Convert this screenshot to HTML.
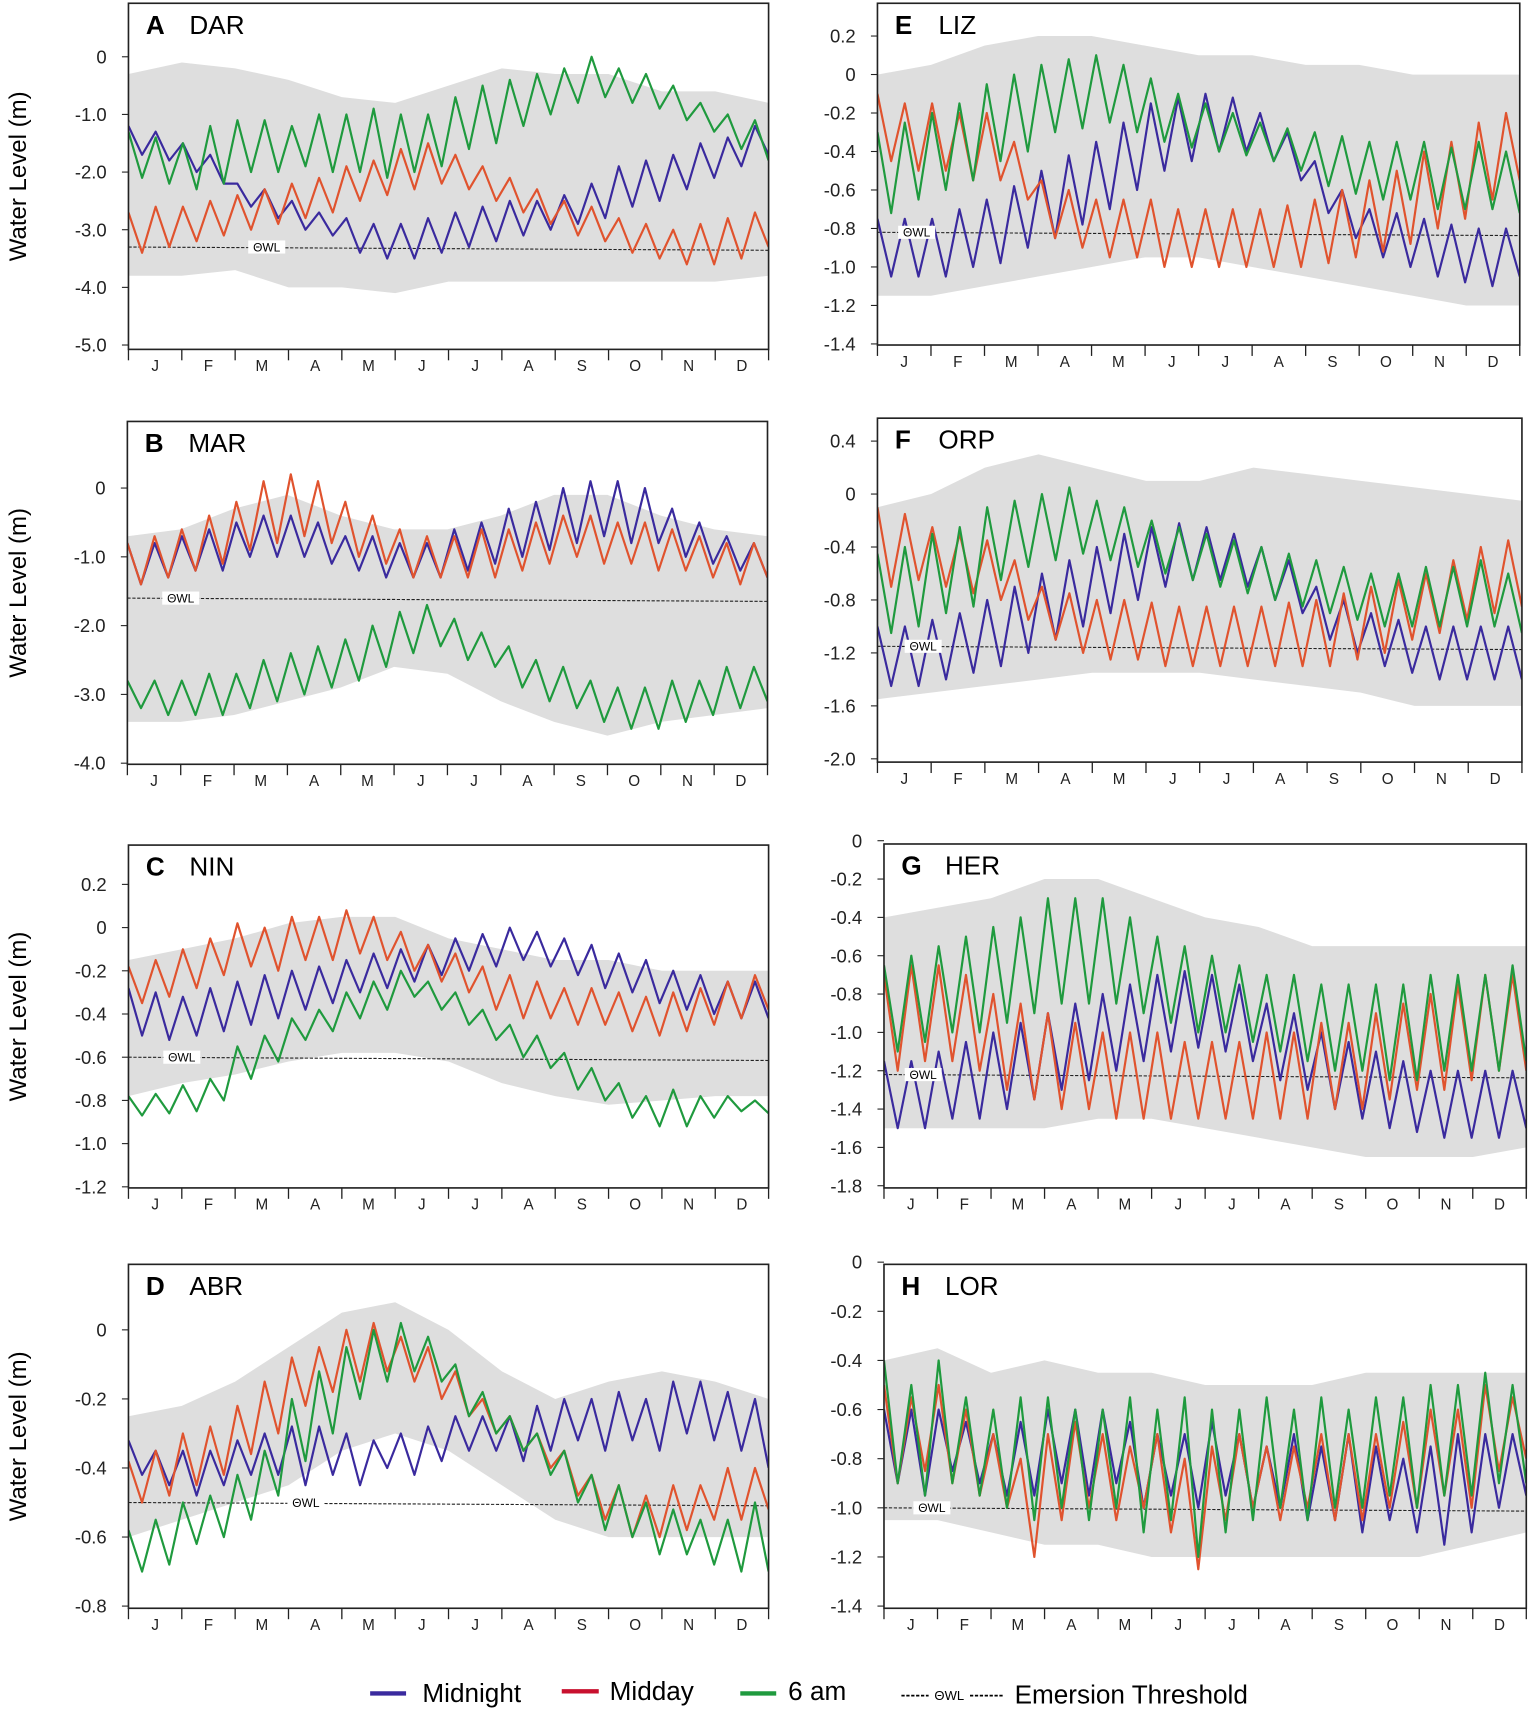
<!DOCTYPE html>
<html><head><meta charset="utf-8"><style>
html,body{margin:0;padding:0;background:#fff}
svg{display:block}
text{font-family:"Liberation Sans",sans-serif}
</style></head><body>
<svg id="chart" width="1535" height="1712" viewBox="0 0 1410 1568" preserveAspectRatio="none" xmlns="http://www.w3.org/2000/svg">
<g id="panels"></g>
<g id="legend">
  <line x1="340" y1="1551" x2="373" y2="1551" stroke="#3a2a9e" stroke-width="4"/>
  <text x="388" y="1559" font-size="24">Midnight</text>
  <line x1="516" y1="1549" x2="550" y2="1549" stroke="#c8102e" stroke-width="4"/>
  <text x="560" y="1557" font-size="24">Midday</text>
  <line x1="680" y1="1551" x2="713" y2="1551" stroke="#1f9a3e" stroke-width="4"/>
  <text x="724" y="1557" font-size="24">6 am</text>
  <line x1="828" y1="1553" x2="922" y2="1553" stroke="#000" stroke-width="1.5" stroke-dasharray="3,1.5"/>
  <rect x="853" y="1545" width="38" height="14" fill="#fff"/>
  <text x="872" y="1557" font-size="12" text-anchor="middle" font-family="Liberation Serif,serif">ΘWL</text>
  <text x="932" y="1560" font-size="24">Emersion Threshold</text>
</g>
</svg>
<script>
const months = ["J","F","M","A","M","J","J","A","S","O","N","D"];
const panelIds = ["A","B","C","D","E","F","G","H"];
const panelNames = ["DAR","MAR","NIN","ABR","LIZ","ORP","HER","LOR"];
const owlValues = [-3.3,-1.6,-0.6,-0.5,-0.82,-1.15,-1.22,-1.0];
const tickA = [0,-1,-2,-3,-4,-5];
const tickLabelsA = ["0","-1.0","-2.0","-3.0","-4.0","-5.0"];
const tickB = [0,-1,-2,-3,-4];
const tickLabelsB = ["0","-1.0","-2.0","-3.0","-4.0"];
const tickC = [0.2,0,-0.2,-0.4,-0.6,-0.8,-1.0,-1.2];
const tickLabelsC = ["0.2","0","-0.2","-0.4","-0.6","-0.8","-1.0","-1.2"];
const tickD = [0,-0.2,-0.4,-0.6,-0.8];
const tickLabelsD = ["0","-0.2","-0.4","-0.6","-0.8"];
const tickE = [0.2,0,-0.2,-0.4,-0.6,-0.8,-1.0,-1.2,-1.4];
const tickLabelsE = ["0.2","0","-0.2","-0.4","-0.6","-0.8","-1.0","-1.2","-1.4"];
const tickF = [0.4,0,-0.4,-0.8,-1.2,-1.6,-2.0];
const tickLabelsF = ["0.4","0","-0.4","-0.8","-1.2","-1.6","-2.0"];
const tickG = [0,-0.2,-0.4,-0.6,-0.8,-1.0,-1.2,-1.4,-1.6,-1.8];
const tickLabelsG = ["0","-0.2","-0.4","-0.6","-0.8","-1.0","-1.2","-1.4","-1.6","-1.8"];
const tickH = [0,-0.2,-0.4,-0.6,-0.8,-1.0,-1.2,-1.4];
const tickLabelsH = ["0","-0.2","-0.4","-0.6","-0.8","-1.0","-1.2","-1.4"];

const midnightA = [-1.2,-1.7,-1.3,-1.8,-1.5,-2.0,-1.7,-2.2,-2.2,-2.6,-2.3,-2.8,-2.5,-3.0,-2.7,-3.1,-2.8,-3.4,-2.9,-3.5,-2.9,-3.5,-2.8,-3.4,-2.7,-3.3,-2.6,-3.2,-2.5,-3.1,-2.5,-3.0,-2.4,-2.9,-2.2,-2.8,-1.9,-2.6,-1.8,-2.5,-1.7,-2.3,-1.5,-2.1,-1.4,-1.9,-1.2,-1.7];
const middayA = [-2.7,-3.4,-2.6,-3.3,-2.6,-3.2,-2.5,-3.1,-2.4,-3.0,-2.3,-2.9,-2.2,-2.8,-2.1,-2.7,-1.9,-2.5,-1.8,-2.4,-1.6,-2.3,-1.5,-2.2,-1.7,-2.3,-1.9,-2.5,-2.1,-2.7,-2.3,-2.9,-2.5,-3.1,-2.6,-3.2,-2.8,-3.4,-2.9,-3.5,-3.0,-3.6,-2.9,-3.6,-2.8,-3.5,-2.7,-3.3];
const sixamA = [-1.3,-2.1,-1.4,-2.2,-1.5,-2.3,-1.2,-2.2,-1.1,-2.0,-1.1,-2.0,-1.2,-1.9,-1.0,-2.0,-1.0,-2.0,-0.9,-2.1,-1.0,-2.0,-1.0,-1.9,-0.7,-1.6,-0.5,-1.5,-0.4,-1.2,-0.3,-1.0,-0.2,-0.8,0.0,-0.7,-0.2,-0.8,-0.3,-0.9,-0.5,-1.1,-0.8,-1.3,-1.0,-1.6,-1.1,-1.8];
const grayUpA = [-0.3,-0.1,-0.2,-0.4,-0.7,-0.8,-0.5,-0.2,-0.3,-0.3,-0.6,-0.6,-0.8];
const grayLoA = [-3.8,-3.8,-3.7,-4.0,-4.0,-4.1,-3.9,-3.9,-3.9,-3.9,-3.9,-3.9,-3.8];

const midnightB = [-0.8,-1.4,-0.8,-1.3,-0.7,-1.2,-0.6,-1.2,-0.5,-1.0,-0.4,-1.0,-0.4,-1.0,-0.5,-1.1,-0.7,-1.2,-0.7,-1.3,-0.8,-1.3,-0.8,-1.3,-0.6,-1.2,-0.5,-1.1,-0.3,-1.0,-0.2,-0.9,0.0,-0.8,0.1,-0.7,0.1,-0.8,0.0,-0.8,-0.3,-1.0,-0.5,-1.1,-0.7,-1.2,-0.8,-1.3];
const middayB = [-0.8,-1.4,-0.7,-1.3,-0.6,-1.2,-0.4,-1.1,-0.2,-0.9,0.1,-0.8,0.2,-0.7,0.1,-0.8,-0.2,-1.0,-0.4,-1.1,-0.6,-1.3,-0.7,-1.3,-0.7,-1.3,-0.6,-1.3,-0.6,-1.2,-0.5,-1.1,-0.4,-1.0,-0.4,-1.1,-0.5,-1.1,-0.5,-1.2,-0.6,-1.2,-0.7,-1.3,-0.8,-1.4,-0.8,-1.3];
const sixamB = [-2.8,-3.2,-2.8,-3.3,-2.8,-3.3,-2.7,-3.3,-2.7,-3.2,-2.5,-3.1,-2.4,-3.0,-2.3,-2.9,-2.2,-2.8,-2.0,-2.6,-1.8,-2.4,-1.7,-2.3,-1.9,-2.5,-2.1,-2.6,-2.3,-2.9,-2.5,-3.1,-2.6,-3.2,-2.8,-3.4,-2.9,-3.5,-2.9,-3.5,-2.8,-3.4,-2.8,-3.3,-2.6,-3.2,-2.6,-3.1];
const grayUpB = [-0.7,-0.6,-0.3,-0.1,-0.4,-0.6,-0.6,-0.4,-0.1,-0.1,-0.4,-0.6,-0.7];
const grayLoB = [-3.4,-3.4,-3.3,-3.1,-2.9,-2.6,-2.7,-3.1,-3.4,-3.6,-3.4,-3.3,-3.2];

const midnightC = [-0.28,-0.5,-0.3,-0.52,-0.32,-0.5,-0.28,-0.48,-0.25,-0.45,-0.22,-0.42,-0.2,-0.38,-0.18,-0.35,-0.15,-0.3,-0.12,-0.28,-0.1,-0.25,-0.08,-0.22,-0.05,-0.2,-0.03,-0.18,0.0,-0.15,-0.02,-0.18,-0.05,-0.22,-0.08,-0.28,-0.12,-0.3,-0.15,-0.35,-0.2,-0.38,-0.22,-0.4,-0.25,-0.42,-0.25,-0.42];
const middayC = [-0.18,-0.35,-0.15,-0.32,-0.1,-0.28,-0.05,-0.22,0.02,-0.18,0.0,-0.2,0.05,-0.15,0.05,-0.15,0.08,-0.12,0.05,-0.15,-0.02,-0.2,-0.08,-0.25,-0.12,-0.3,-0.18,-0.38,-0.22,-0.42,-0.25,-0.42,-0.28,-0.45,-0.28,-0.45,-0.3,-0.48,-0.32,-0.5,-0.3,-0.48,-0.28,-0.45,-0.25,-0.42,-0.22,-0.38];
const sixamC = [-0.78,-0.87,-0.77,-0.86,-0.73,-0.85,-0.7,-0.8,-0.55,-0.7,-0.5,-0.62,-0.42,-0.52,-0.38,-0.48,-0.3,-0.42,-0.25,-0.38,-0.2,-0.32,-0.25,-0.38,-0.3,-0.45,-0.38,-0.52,-0.45,-0.6,-0.5,-0.65,-0.58,-0.75,-0.65,-0.8,-0.72,-0.88,-0.78,-0.92,-0.75,-0.92,-0.78,-0.88,-0.78,-0.85,-0.8,-0.86];
const grayUpC = [-0.15,-0.1,-0.05,0.02,0.05,0.05,-0.05,-0.1,-0.15,-0.15,-0.2,-0.2,-0.2];
const grayLoC = [-0.78,-0.72,-0.68,-0.62,-0.58,-0.58,-0.62,-0.72,-0.78,-0.82,-0.8,-0.78,-0.78];

const midnightD = [-0.32,-0.42,-0.35,-0.45,-0.35,-0.48,-0.35,-0.45,-0.32,-0.42,-0.3,-0.42,-0.28,-0.45,-0.28,-0.42,-0.3,-0.45,-0.32,-0.4,-0.3,-0.42,-0.28,-0.38,-0.25,-0.35,-0.25,-0.35,-0.25,-0.38,-0.22,-0.35,-0.2,-0.32,-0.2,-0.35,-0.18,-0.32,-0.2,-0.35,-0.15,-0.3,-0.15,-0.32,-0.18,-0.35,-0.2,-0.4];
const middayD = [-0.38,-0.5,-0.35,-0.48,-0.3,-0.45,-0.28,-0.42,-0.22,-0.36,-0.15,-0.3,-0.08,-0.22,-0.05,-0.18,0.0,-0.15,0.02,-0.12,-0.02,-0.15,-0.05,-0.2,-0.12,-0.25,-0.2,-0.3,-0.25,-0.35,-0.3,-0.4,-0.35,-0.48,-0.42,-0.55,-0.45,-0.6,-0.48,-0.6,-0.45,-0.58,-0.45,-0.55,-0.4,-0.55,-0.4,-0.52];
const sixamD = [-0.58,-0.7,-0.55,-0.68,-0.5,-0.62,-0.48,-0.6,-0.42,-0.55,-0.35,-0.48,-0.2,-0.38,-0.12,-0.3,-0.05,-0.2,0.0,-0.15,0.02,-0.12,-0.02,-0.15,-0.1,-0.25,-0.18,-0.3,-0.25,-0.35,-0.3,-0.42,-0.35,-0.5,-0.42,-0.58,-0.45,-0.6,-0.5,-0.65,-0.52,-0.65,-0.55,-0.68,-0.55,-0.7,-0.5,-0.7];
const grayUpD = [-0.25,-0.22,-0.15,-0.05,0.05,0.08,0.0,-0.12,-0.2,-0.15,-0.12,-0.15,-0.2];
const grayLoD = [-0.6,-0.55,-0.5,-0.45,-0.35,-0.3,-0.35,-0.45,-0.55,-0.6,-0.6,-0.6,-0.6];

const midnightE = [-0.75,-1.05,-0.75,-1.05,-0.75,-1.05,-0.7,-1.0,-0.65,-0.98,-0.58,-0.9,-0.5,-0.85,-0.42,-0.78,-0.35,-0.7,-0.25,-0.6,-0.15,-0.5,-0.12,-0.45,-0.1,-0.4,-0.12,-0.4,-0.2,-0.45,-0.3,-0.55,-0.45,-0.72,-0.6,-0.85,-0.7,-0.95,-0.72,-1.0,-0.75,-1.05,-0.78,-1.08,-0.8,-1.1,-0.8,-1.05];
const middayE = [-0.1,-0.45,-0.15,-0.5,-0.15,-0.5,-0.2,-0.55,-0.2,-0.55,-0.35,-0.65,-0.55,-0.85,-0.6,-0.9,-0.65,-0.95,-0.65,-0.95,-0.65,-1.0,-0.7,-1.0,-0.7,-1.0,-0.7,-1.0,-0.7,-1.0,-0.68,-1.0,-0.65,-0.98,-0.6,-0.95,-0.55,-0.92,-0.5,-0.88,-0.4,-0.8,-0.35,-0.75,-0.25,-0.65,-0.2,-0.55];
const sixamE = [-0.3,-0.72,-0.25,-0.65,-0.2,-0.6,-0.15,-0.55,-0.05,-0.45,0.0,-0.4,0.05,-0.3,0.08,-0.28,0.1,-0.25,0.05,-0.3,-0.02,-0.35,-0.1,-0.38,-0.15,-0.4,-0.2,-0.42,-0.25,-0.45,-0.28,-0.5,-0.3,-0.58,-0.32,-0.62,-0.35,-0.65,-0.35,-0.65,-0.35,-0.7,-0.38,-0.7,-0.35,-0.7,-0.4,-0.72];
const grayUpE = [0.0,0.05,0.15,0.2,0.2,0.15,0.1,0.1,0.05,0.05,0.0,0.0,0.0];
const grayLoE = [-1.15,-1.15,-1.1,-1.05,-1.0,-0.95,-0.95,-1.0,-1.05,-1.1,-1.15,-1.2,-1.2];

const midnightF = [-1.0,-1.45,-1.0,-1.45,-0.95,-1.4,-0.9,-1.35,-0.8,-1.3,-0.7,-1.2,-0.6,-1.1,-0.5,-1.0,-0.4,-0.9,-0.3,-0.8,-0.25,-0.7,-0.22,-0.65,-0.25,-0.65,-0.3,-0.7,-0.4,-0.8,-0.5,-0.9,-0.7,-1.1,-0.8,-1.2,-0.9,-1.3,-0.95,-1.35,-1.0,-1.4,-1.0,-1.4,-1.0,-1.4,-1.0,-1.4];
const middayF = [-0.1,-0.7,-0.15,-0.65,-0.25,-0.7,-0.3,-0.75,-0.35,-0.8,-0.5,-0.95,-0.7,-1.1,-0.75,-1.2,-0.8,-1.25,-0.8,-1.25,-0.82,-1.3,-0.85,-1.3,-0.85,-1.3,-0.85,-1.3,-0.85,-1.3,-0.82,-1.3,-0.8,-1.3,-0.75,-1.25,-0.7,-1.2,-0.65,-1.1,-0.6,-1.05,-0.5,-0.95,-0.4,-0.9,-0.35,-0.85];
const sixamF = [-0.45,-1.05,-0.4,-1.0,-0.3,-0.9,-0.25,-0.85,-0.1,-0.65,-0.05,-0.55,0.0,-0.5,0.05,-0.45,-0.05,-0.5,-0.1,-0.55,-0.2,-0.6,-0.25,-0.65,-0.3,-0.7,-0.35,-0.75,-0.4,-0.8,-0.45,-0.85,-0.5,-0.9,-0.55,-0.95,-0.6,-1.0,-0.6,-1.0,-0.55,-1.0,-0.55,-1.0,-0.5,-1.0,-0.6,-1.05];
const grayUpF = [-0.1,0.0,0.2,0.3,0.2,0.1,0.1,0.2,0.15,0.1,0.05,0.0,-0.05];
const grayLoF = [-1.55,-1.5,-1.45,-1.4,-1.35,-1.35,-1.35,-1.4,-1.45,-1.5,-1.6,-1.6,-1.6];

const midnightG = [-1.15,-1.5,-1.15,-1.5,-1.1,-1.45,-1.05,-1.45,-1.0,-1.4,-0.95,-1.35,-0.9,-1.3,-0.85,-1.25,-0.8,-1.2,-0.75,-1.15,-0.7,-1.1,-0.68,-1.08,-0.7,-1.1,-0.75,-1.15,-0.85,-1.25,-0.9,-1.3,-1.0,-1.4,-1.05,-1.45,-1.1,-1.5,-1.15,-1.52,-1.2,-1.55,-1.2,-1.55,-1.2,-1.55,-1.2,-1.5];
const middayG = [-0.7,-1.2,-0.65,-1.15,-0.65,-1.15,-0.7,-1.2,-0.8,-1.3,-0.85,-1.35,-0.9,-1.4,-0.95,-1.4,-1.0,-1.45,-1.0,-1.45,-1.0,-1.45,-1.05,-1.45,-1.05,-1.45,-1.05,-1.45,-1.0,-1.45,-1.0,-1.45,-0.95,-1.4,-0.95,-1.4,-0.9,-1.35,-0.85,-1.3,-0.8,-1.3,-0.75,-1.25,-0.7,-1.2,-0.7,-1.2];
const sixamG = [-0.65,-1.1,-0.6,-1.05,-0.55,-1.0,-0.5,-1.0,-0.45,-0.95,-0.4,-0.9,-0.3,-0.85,-0.3,-0.85,-0.3,-0.85,-0.4,-0.9,-0.5,-0.95,-0.55,-1.0,-0.6,-1.0,-0.65,-1.05,-0.7,-1.1,-0.7,-1.15,-0.75,-1.2,-0.75,-1.2,-0.75,-1.25,-0.75,-1.25,-0.7,-1.2,-0.7,-1.2,-0.7,-1.2,-0.65,-1.15];
const grayUpG = [-0.4,-0.35,-0.3,-0.2,-0.2,-0.3,-0.4,-0.45,-0.55,-0.55,-0.55,-0.55,-0.55];
const grayLoG = [-1.5,-1.5,-1.5,-1.5,-1.45,-1.45,-1.5,-1.55,-1.6,-1.65,-1.65,-1.65,-1.6];

const midnightH = [-0.6,-0.9,-0.6,-0.95,-0.6,-0.85,-0.65,-0.9,-0.7,-0.95,-0.65,-0.95,-0.6,-0.9,-0.6,-0.95,-0.6,-0.9,-0.65,-1.0,-0.7,-0.95,-0.7,-1.0,-0.65,-0.95,-0.7,-1.0,-0.75,-1.0,-0.7,-1.05,-0.75,-1.05,-0.7,-1.1,-0.75,-1.05,-0.8,-1.1,-0.75,-1.15,-0.7,-1.1,-0.7,-1.0,-0.7,-0.95];
const middayH = [-0.5,-0.9,-0.55,-0.85,-0.5,-0.9,-0.6,-0.95,-0.7,-1.0,-0.8,-1.2,-0.7,-1.05,-0.65,-1.0,-0.7,-1.05,-0.75,-1.0,-0.7,-1.1,-0.8,-1.25,-0.75,-1.05,-0.7,-1.0,-0.75,-1.05,-0.75,-1.0,-0.7,-1.05,-0.7,-1.05,-0.7,-1.0,-0.65,-1.0,-0.6,-0.95,-0.6,-1.0,-0.5,-0.85,-0.55,-0.8];
const sixamH = [-0.4,-0.9,-0.5,-0.95,-0.4,-0.9,-0.55,-0.95,-0.6,-1.0,-0.55,-1.05,-0.55,-1.0,-0.6,-1.05,-0.6,-1.0,-0.55,-1.1,-0.6,-1.05,-0.55,-1.2,-0.6,-1.1,-0.6,-1.05,-0.55,-1.0,-0.6,-1.05,-0.55,-1.0,-0.6,-1.0,-0.55,-0.95,-0.55,-1.0,-0.5,-0.95,-0.5,-0.95,-0.45,-0.9,-0.5,-0.9];
const grayUpH = [-0.4,-0.35,-0.45,-0.4,-0.45,-0.45,-0.5,-0.5,-0.5,-0.45,-0.45,-0.45,-0.45];
const grayLoH = [-1.05,-1.05,-1.1,-1.15,-1.15,-1.2,-1.2,-1.2,-1.2,-1.2,-1.2,-1.15,-1.1];

// layout: box geometry + two reference ticks (value, pixel) per panel
const layouts = [
 {l:118,r:706,t:3,b:320,v0:0,p0:52,v1:-5,p1:316,ticks:tickA,labels:tickLabelsA,owlX:245,left:true},
 {l:117,r:705,t:386,b:700,v0:0,p0:447,v1:-4,p1:699,ticks:tickB,labels:tickLabelsB,owlX:166,left:true},
 {l:118,r:706,t:774,b:1088,v0:0.2,p0:810,v1:-1.2,p1:1087,ticks:tickC,labels:tickLabelsC,owlX:167,left:true},
 {l:118,r:706,t:1158,b:1473,v0:0,p0:1218,v1:-0.8,p1:1471,ticks:tickD,labels:tickLabelsD,owlX:281,left:true},
 {l:806,r:1396,t:3,b:316,v0:0.2,p0:33,v1:-1.4,p1:315,ticks:tickE,labels:tickLabelsE,owlX:842,left:false},
 {l:806,r:1398,t:383,b:698,v0:0.4,p0:404,v1:-2.0,p1:695,ticks:tickF,labels:tickLabelsF,owlX:848,left:false},
 {l:812,r:1402,t:773,b:1088,v0:0,p0:770,v1:-1.8,p1:1086,ticks:tickG,labels:tickLabelsG,owlX:848,left:false},
 {l:812,r:1402,t:1158,b:1473,v0:0,p0:1156,v1:-1.4,p1:1471,ticks:tickH,labels:tickLabelsH,owlX:856,left:false}
];
const seriesSets = [
 [midnightA,middayA,sixamA,grayUpA,grayLoA],
 [midnightB,middayB,sixamB,grayUpB,grayLoB],
 [midnightC,middayC,sixamC,grayUpC,grayLoC],
 [midnightD,middayD,sixamD,grayUpD,grayLoD],
 [midnightE,middayE,sixamE,grayUpE,grayLoE],
 [midnightF,middayF,sixamF,grayUpF,grayLoF],
 [midnightG,middayG,sixamG,grayUpG,grayLoG],
 [midnightH,middayH,sixamH,grayUpH,grayLoH]
];
const NS = "http://www.w3.org/2000/svg";
const root = document.getElementById("panels");
function mk(tag, attrs, parent){
  const e = document.createElementNS(NS, tag);
  for (const k in attrs) e.setAttribute(k, attrs[k]);
  parent.appendChild(e);
  return e;
}
const colors = ["#3a2a9e","#e0532e","#1f9a3e"];
const seriesNames = ["midnight","midday","6am"];
layouts.forEach((L, pi) => {
  const g = mk("g", {}, root);
  
  
  const yScale = v => L.p0 + (v - L.v0) * (L.p1 - L.p0) / (L.v1 - L.v0);
  const xScale = (i, n) => L.l + i * (L.r - L.l) / (n - 1);
  const cid = "clip" + pi;
  const cp = mk("clipPath", {id: cid}, g);
  mk("rect", {x: L.l, y: L.t, width: L.r - L.l, height: L.b - L.t}, cp);
  const set = seriesSets[pi];
  // gray band
  const up = set[3], lo = set[4];
  let d = "";
  up.forEach((v, i) => { d += (i ? "L" : "M") + xScale(i, up.length).toFixed(1) + "," + yScale(v).toFixed(1); });
  for (let i = lo.length - 1; i >= 0; i--) d += "L" + xScale(i, lo.length).toFixed(1) + "," + yScale(lo[i]).toFixed(1);
  const band = mk("path", {d: d + "Z", fill: "#dedede", "clip-path": "url(#" + cid + ")"}, g);
  
  
  // owl
  const oy = yScale(owlValues[pi]);
  const owl = mk("line", {x1: L.l, y1: oy, x2: L.r, y2: oy + 3, stroke: "#222", "stroke-width": 1, "stroke-dasharray": "3,1.5"}, g);
  
  
  // series
  [0, 1, 2].forEach(si => {
    const arr = set[si];
    let p = "";
    arr.forEach((v, i) => { p += (i ? "L" : "M") + xScale(i, arr.length).toFixed(1) + "," + yScale(v).toFixed(1); });
    const ln = mk("path", {d: p, fill: "none", stroke: colors[si], "stroke-width": 2, "stroke-linejoin": "round", "clip-path": "url(#" + cid + ")"}, g);
    
    
  });
  // owl label
  mk("rect", {x: L.owlX - 17, y: oy - 6, width: 34, height: 12, fill: "#fff"}, g);
  const ot = mk("text", {x: L.owlX, y: oy + 4, "font-size": 11, "text-anchor": "middle", "font-family": "Liberation Serif,serif"}, g);
  ot.textContent = "ΘWL";
  
  
  // frame
  const fr = mk("rect", {x: L.l, y: L.t, width: L.r - L.l, height: L.b - L.t, fill: "none", stroke: "#222", "stroke-width": 1.5}, g);
  
  
  // y ticks
  L.ticks.forEach((v, i) => {
    const y = yScale(v);
    mk("line", {x1: L.l - 6, y1: y, x2: L.l, y2: y, stroke: "#222", "stroke-width": 1}, g);
    const tt = mk("text", {x: L.l - 20, y: y + 6, "font-size": 17, "text-anchor": "end", fill: "#222"}, g);
    tt.textContent = L.labels[i];
    
    
  });
  // month ticks
  const mw = (L.r - L.l) / 12;
  for (let m = 0; m <= 12; m++) mk("line", {x1: L.l + m * mw, y1: L.b, x2: L.l + m * mw, y2: L.b + 10, stroke: "#222", "stroke-width": 1.2}, g);
  months.forEach((mn, m) => {
    const mt = mk("text", {x: L.l + (m + 0.5) * mw, y: L.b + 20, "font-size": 14, "text-anchor": "middle", fill: "#222"}, g);
    mt.textContent = mn;
    
    
  });
  // panel title
  const tl = mk("text", {x: L.l + 16, y: L.t + 28, "font-size": 24, "font-weight": "bold"}, g);
  tl.textContent = panelIds[pi];
  
  
  const tn = mk("text", {x: L.l + 56, y: L.t + 28, "font-size": 24}, g);
  tn.textContent = panelNames[pi];
  
  
  if (L.left) {
    const cy = (L.t + L.b) / 2;
    const yl = mk("text", {x: 0, y: 0, "font-size": 22, "text-anchor": "middle", transform: "translate(24," + cy + ") rotate(-90)"}, g);
    yl.textContent = "Water Level (m)";
    
    
  }
});
</script>
</body></html>
